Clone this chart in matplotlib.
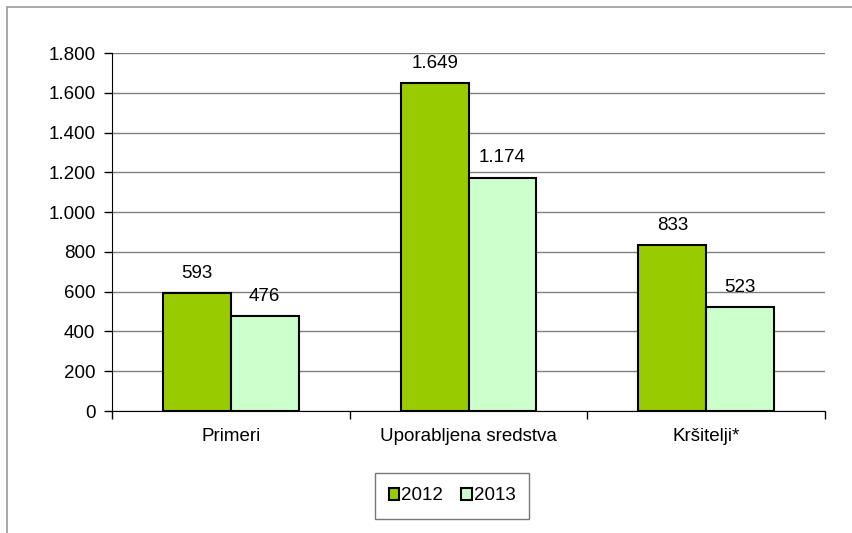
import matplotlib.pyplot as plt
import numpy as np
from matplotlib.patches import Rectangle
from matplotlib.ticker import FuncFormatter

plt.rcParams['font.family'] = ['Liberation Sans', 'DejaVu Sans']

categories = ["Primeri", "Uporabljena sredstva", "Kršitelji*"]
values_2012 = [593, 1649, 833]
values_2013 = [476, 1174, 523]
years = ["2012", "2013"]

fs = 13.5
fig = plt.figure(figsize=(8.52, 5.33), dpi=100)
fig.patches.append(Rectangle((7 / 852, -0.1), 1.1, 1.1 - 7 / 533, transform=fig.transFigure,
                             fill=False, edgecolor="#999999", linewidth=1.2))
ax = fig.add_axes([112 / 852, 1 - 411 / 533, 713 / 852, (411 - 53) / 533])

x = np.arange(len(categories))
w = 0.285
b1 = ax.bar(x - w / 2, values_2012, w, color="#99CC00", edgecolor="black", linewidth=1.5, label=years[0], zorder=3)
b2 = ax.bar(x + w / 2, values_2013, w, color="#CCFFCC", edgecolor="black", linewidth=1.5, label=years[1], zorder=3)

fmt = lambda v: f"{int(v):,}".replace(",", ".")
for bars in (b1, b2):
    for r in bars:
        ax.annotate(fmt(r.get_height()), (r.get_x() + r.get_width() / 2, r.get_height()),
                    xytext=(0, 8), textcoords="offset points", ha="center", va="bottom", fontsize=fs)

ax.set_xlim(-0.5, 2.5)
ax.set_ylim(0, 1800)
ax.set_yticks(range(0, 1801, 200))
ax.yaxis.set_major_formatter(FuncFormatter(lambda v, p: fmt(v)))
ax.set_xticks(x)
ax.set_xticklabels(categories)
ax.set_xticks([-0.5, 0.5, 1.5, 2.5], minor=True)
ax.tick_params(axis="x", which="major", length=0, pad=12, labelsize=fs)
ax.tick_params(axis="x", which="minor", length=6, width=1)
ax.tick_params(axis="y", length=6, width=1, labelsize=fs, pad=6)
ax.grid(axis="y", color="#808080", linewidth=1, zorder=0)
ax.spines["top"].set_visible(False)
ax.spines["right"].set_visible(False)

leg = fig.legend(handles=[b1, b2], labels=years, loc="center", bbox_to_anchor=(452 / 852, 1 - 496 / 533),
                 ncol=2, frameon=True, fancybox=False, edgecolor="#555555", fontsize=fs,
                 handlelength=0.55, handleheight=0.55, handletextpad=0.1, columnspacing=1.0,
                 borderpad=0.75)
leg.get_frame().set_linewidth(1)

fig.savefig("out.png", dpi=100)
